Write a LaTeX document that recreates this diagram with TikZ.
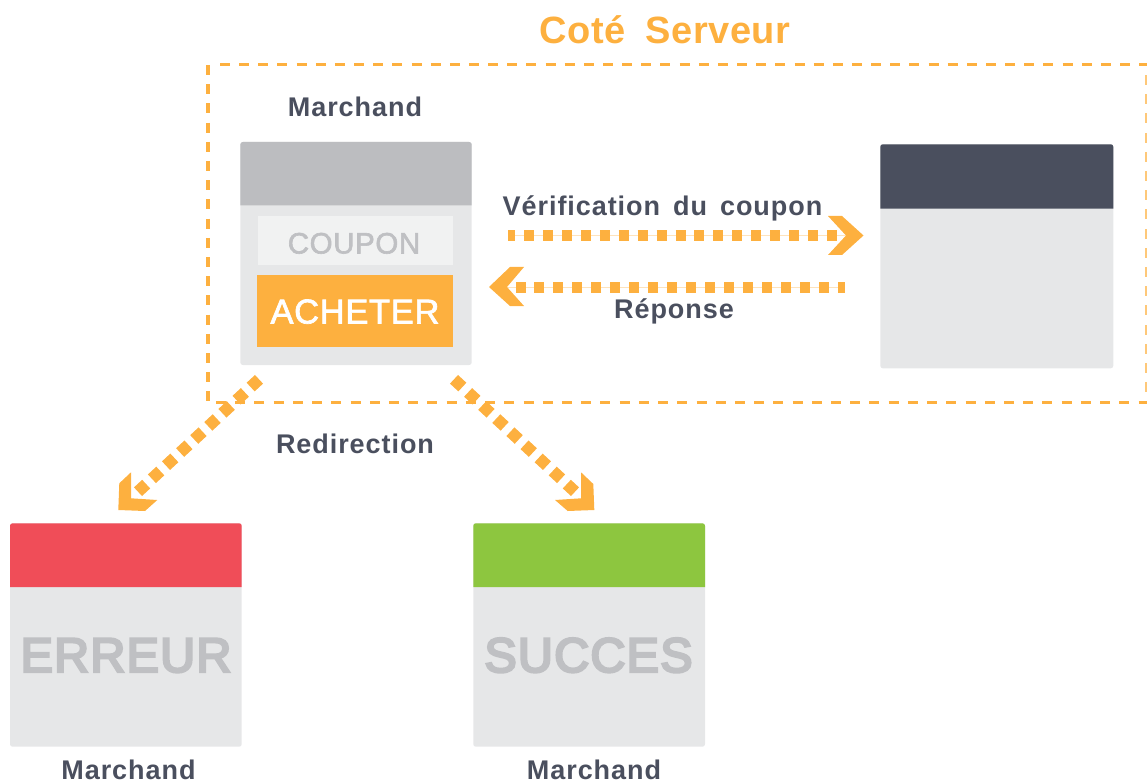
\documentclass[tikz,border=0pt]{standalone}
\usepackage{fontspec}
\setmainfont{Liberation Sans}
\newfontfamily\lblfont[LetterSpace=3.5]{Liberation Sans Bold}
\newfontfamily\ttlfont[LetterSpace=1.5]{Liberation Sans Bold}
\newfontfamily\midfont[FakeBold=2,LetterSpace=2]{Liberation Sans}
\newfontfamily\bigfont[FakeBold=5,LetterSpace=2.5]{Liberation Sans}
\definecolor{orng}{HTML}{FDB03F}
\definecolor{faint}{HTML}{FEE3BC}
\definecolor{ink}{HTML}{4A4F5E}
\definecolor{bodyg}{HTML}{E6E7E8}
\definecolor{headg}{HTML}{BCBDC0}
\definecolor{lightg}{HTML}{F1F2F2}
\definecolor{txtg}{HTML}{BFC0C3}
\definecolor{redh}{HTML}{F04D58}
\definecolor{greenh}{HTML}{8DC63F}
\newcommand{\fsz}[1]{\fontsize{#1}{#1}\selectfont}
\tikzset{
  x=1pt,y=-1pt,
  winbody/.style={fill=bodyg,rounded corners=2.5pt,inner sep=0,outer sep=0,anchor=north west},
  lbl/.style={inner sep=0,anchor=base,text=ink,font=\lblfont\fsz{27}},
  biglbl/.style={inner sep=0,anchor=base,text=txtg,font=\bigfont\fsz{48.5}},
  boxline/.style={draw=orng,line width=3.1pt},
  flat/.style={draw=orng,line width=11pt,dash pattern=on 10pt off 8.94pt},
  diag/.style={draw=orng,line width=11.8pt,dash pattern=on 11.4pt off 7.85pt},
  thin link/.style={draw=faint,line width=1.2pt},
  tip/.style={fill=orng},
}
\begin{document}
\begin{tikzpicture}
\useasboundingbox (0,0) rectangle (1147,783);
% dashed frame
\coordinate (fa) at (220,64.7); \coordinate (fb) at (1147,64.7);
\coordinate (fc) at (208,65); \coordinate (fd) at (208,402);
\coordinate (fe) at (216,402.5); \coordinate (ff) at (1147,402.5);
\coordinate (fg) at (1146.5,75); \coordinate (fh) at (1146.5,393);
\draw[boxline,dash pattern=on 10pt off 9.15pt] (fa) -- (fb);
\draw[boxline,dash pattern=on 10pt off 9.2pt] (fc) -- (fd);
\draw[boxline,dash pattern=on 10pt off 9.22pt] (fe) -- (ff);
\draw[boxline,draw=orng!70,dash pattern=on 10pt off 9.2pt] (fg) -- (fh);
% windows
\node[winbody,minimum width=231.4pt,minimum height=223pt] (merchant) at (240.3,142) {};
\fill[headg] (240.3,205.3) {[rounded corners=2.5pt] -- (240.3,142) -- (471.7,142)} -- (471.7,205.3) -- cycle;
\node[inner sep=0,outer sep=0,anchor=north west,fill=lightg,minimum width=194.4pt,minimum height=49pt] (couponbox) at (258.3,216) {};
\node[inner sep=0,outer sep=0,anchor=north west,fill=orng,minimum width=196pt,minimum height=71.7pt] (buybox) at (257.3,275) {};
\node[inner sep=0,anchor=base,text=txtg,font=\midfont\fsz{29.5}] (coupontxt) at (354,253.5) {COUPON};
\node[inner sep=0,anchor=base,text=white,font=\midfont\fsz{34.5}] (buytxt) at (355,323.5) {ACHETER};
\node[winbody,minimum width=233pt,minimum height=224pt] (server) at (880.3,144.3) {};
\fill[ink] (880.3,208.7) {[rounded corners=2.5pt] -- (880.3,144.3) -- (1113.3,144.3)} -- (1113.3,208.7) -- cycle;
\node[winbody,minimum width=231.7pt,minimum height=223.4pt] (errbox) at (10,523.3) {};
\fill[redh] (10,587) {[rounded corners=2.5pt] -- (10,523.3) -- (241.7,523.3)} -- (241.7,587) -- cycle;
\node[winbody,minimum width=231.7pt,minimum height=223.4pt] (okbox) at (473.3,523.3) {};
\fill[greenh] (473.3,587) {[rounded corners=2.5pt] -- (473.3,523.3) -- (705,523.3)} -- (705,587) -- cycle;
% labels
\node[inner sep=0,anchor=base,text=orng,font=\ttlfont\fsz{38}] (title) at (665,44) {Coté\hspace{20pt}Serveur};
\node[lbl] (m1) at (355,117) {Marchand};
\node[lbl] (m2) at (128.5,779.5) {Marchand};
\node[lbl] (m3) at (594,779.5) {Marchand};
\node[lbl] (verif) at (662.5,215.5) {Vérification\hspace{13pt}du\hspace{13pt}coupon};
\node[lbl] (rep) at (674,318.5) {Réponse};
\node[lbl] (redir) at (355,453.5) {Redirection};
\node[biglbl] (err) at (126,672) {ERREUR};
\node[biglbl] (ok) at (588.5,672) {SUCCES};
% horizontal arrows
\coordinate (a1) at (508,235.7); \coordinate (a2) at (836.5,235.7); \coordinate (a3) at (846,235.7);
\coordinate (b1) at (845,287.3); \coordinate (b2) at (516,287.3); \coordinate (b3) at (507,287.3);
\draw[thin link] (a1) -- (a3);
\draw[thin link] (b1) -- (b3);
\draw[flat,dash phase=2.94pt] (a1) -- (a2);
\draw[flat,dash phase=2.5pt] (b1) -- (b2);
\fill[tip] (828,216) -- (842,216) -- (863.5,235.5) -- (842,255) -- (828,255) -- (846,235.5) -- cycle;
\fill[tip] (524,267) -- (510,267) -- (489,287) -- (510,306) -- (524,306) -- (507,287) -- cycle;
% diagonal arrows
\coordinate (c1) at (259,379.3); \coordinate (c2) at (138,491.7);
\coordinate (d1) at (454,379.3); \coordinate (d2) at (575,491.7);
\draw[diag] (c1) -- (c2);
\draw[diag] (d1) -- (d2);
\fill[tip] (131,472.3) -- (119.3,483.3) -- (118.3,510) -- (145,511) -- (157.3,500) -- (131,498.3) -- cycle;
\fill[tip] (581,472.3) -- (593.3,484) -- (594.3,510) -- (567.7,511) -- (555,500) -- (581,498.3) -- cycle;
\end{tikzpicture}
\end{document}
